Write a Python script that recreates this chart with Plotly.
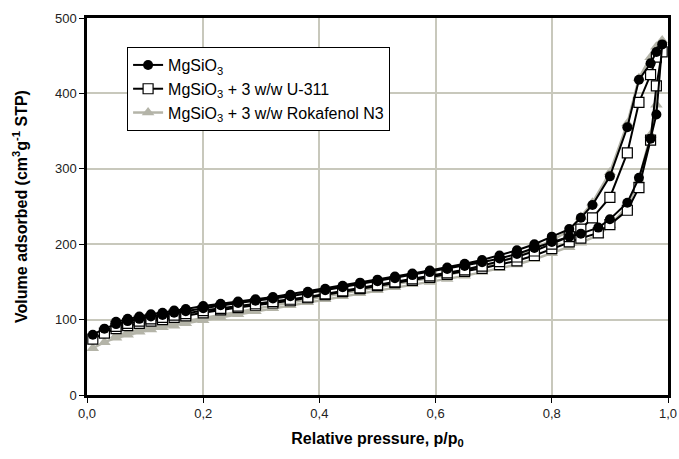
import plotly.graph_objects as go

# relative pressure points: adsorption branch (up) and desorption branch (down)
p_ads = [0.01, 0.03, 0.05, 0.07, 0.09, 0.11, 0.13, 0.15, 0.17, 0.20, 0.23, 0.26, 0.29,
         0.32, 0.35, 0.38, 0.41, 0.44, 0.47, 0.50, 0.53, 0.56, 0.59, 0.62, 0.65, 0.68,
         0.71, 0.74, 0.77, 0.80, 0.83, 0.85, 0.88, 0.90, 0.93, 0.95, 0.97, 0.98, 0.99]
p_des = [0.98, 0.97, 0.95, 0.93, 0.90, 0.87, 0.85, 0.83, 0.80, 0.77, 0.74, 0.71, 0.68,
         0.65, 0.62, 0.59, 0.56, 0.53, 0.50, 0.47, 0.44, 0.41, 0.38, 0.35, 0.32, 0.29,
         0.26, 0.23, 0.20, 0.17, 0.15, 0.13, 0.11, 0.09, 0.07, 0.05]

# MgSiO3
mg_ads = [80, 88, 94, 98, 101, 104, 106, 109, 111, 115, 119, 122, 125,
          128, 131, 135, 139, 143, 147, 151, 155, 159, 163, 167, 171, 176,
          181, 187, 195, 203, 210, 214, 222, 233, 255, 288, 340, 372, 465]
mg_des = [455, 440, 418, 355, 290, 252, 235, 220, 210, 200, 192, 185, 179,
          174, 169, 165, 161, 157, 153, 149, 145, 141, 137, 133, 130, 127,
          124, 121, 118, 114, 112, 109, 107, 104, 101, 97]

# MgSiO3 + 3 w/w U-311
u_ads = [74, 82, 88, 92, 95, 98, 100, 103, 105, 109, 113, 116, 119,
         122, 125, 129, 133, 137, 141, 145, 149, 152, 156, 160, 164, 168,
         173, 178, 185, 194, 203, 208, 215, 226, 245, 275, 338, 410, 455]
u_des = [448, 425, 388, 321, 262, 235, 220, 210, 200, 191, 183, 177, 171,
         166, 162, 158, 154, 150, 146, 142, 138, 134, 130, 127, 124, 121,
         118, 115, 112, 108, 106, 103, 101, 98, 95, 91]

# MgSiO3 + 3 w/w Rokafenol N3
r_ads = [62, 70, 76, 80, 84, 87, 90, 92, 95, 99, 103, 107, 111,
         115, 119, 123, 127, 131, 135, 139, 143, 147, 150, 154, 158, 163,
         168, 173, 180, 188, 196, 202, 212, 225, 250, 285, 345, 385, 470]
r_des = [462, 448, 420, 360, 295, 255, 236, 218, 205, 194, 184, 176, 170,
         164, 159, 155, 151, 147, 143, 139, 135, 131, 127, 123, 119, 115,
         111, 107, 103, 99, 96, 93, 90, 87, 83, 79]

x_ticks = [0, 0.2, 0.4, 0.6, 0.8, 1.0]
x_labels = ["0,0", "0,2", "0,4", "0,6", "0,8", "1,0"]
y_ticks = [0, 100, 200, 300, 400, 500]

gray = "#b4b4a8"
fig = go.Figure()

fig.add_trace(go.Scatter(
    x=p_ads + p_des, y=r_ads + r_des, mode="lines+markers",
    name="MgSiO<sub>3</sub> + 3 w/w Rokafenol N3",
    line=dict(color=gray, width=2.5),
    marker=dict(symbol="triangle-up", size=11, color=gray),
))
fig.add_trace(go.Scatter(
    x=p_ads + p_des, y=u_ads + u_des, mode="lines+markers",
    name="MgSiO<sub>3</sub> + 3 w/w U-311",
    line=dict(color="black", width=2),
    marker=dict(symbol="square", size=10, color="white", line=dict(color="black", width=1.2)),
))
fig.add_trace(go.Scatter(
    x=p_ads + p_des, y=mg_ads + mg_des, mode="lines+markers",
    name="MgSiO<sub>3</sub>",
    line=dict(color="black", width=2),
    marker=dict(symbol="circle", size=10, color="black"),
))

grid = "#c8c8bc"
fig.update_layout(
    width=679, height=459,
    margin=dict(l=87, r=11, t=18, b=64),
    paper_bgcolor="white", plot_bgcolor="white",
    font=dict(family="Liberation Sans, Arial", size=13, color="#222222"),
    legend=dict(
        x=0.069, y=0.923, xanchor="left", yanchor="top",
        bgcolor="white", bordercolor="black", borderwidth=1,
        traceorder="reversed", itemwidth=30,
        font=dict(size=16, color="black"), tracegroupgap=0,
    ),
    xaxis=dict(
        range=[0, 1], tickvals=x_ticks, ticktext=x_labels, automargin=False,
        showgrid=True, gridcolor=grid, gridwidth=1.5,
        showline=True, linecolor="black", linewidth=2.5, mirror=True,
        ticks="outside", ticklen=5, tickcolor="black",
        zeroline=False,
        title=dict(text="<b>Relative pressure, p/p<sub>0</sub></b>", standoff=13,
                   font=dict(size=16, color="black")),
    ),
    yaxis=dict(
        range=[0, 500], tickvals=y_ticks, automargin=False,
        showgrid=True, gridcolor=grid, gridwidth=1.5,
        showline=True, linecolor="black", linewidth=2.5, mirror=True,
        ticks="outside", ticklen=5, tickcolor="black",
        zeroline=False,
        title=dict(text="<b>Volume adsorbed (cm<sup>3</sup>g<sup>-1</sup> STP)</b>", standoff=24,
                   font=dict(size=16, color="black")),
    ),
)

# drop the default 8px body margin so the figure fills the window exactly
fig.write_html("out.html", config={"displayModeBar": False},
               post_script="document.body.style.margin='0';")
